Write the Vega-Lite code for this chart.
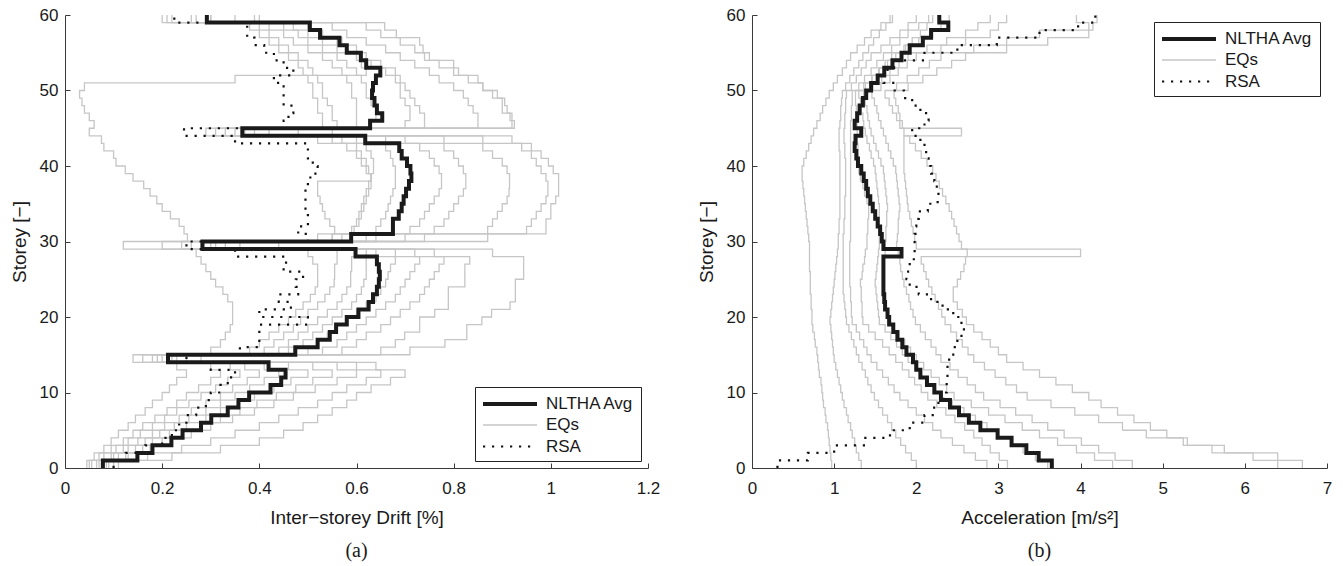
{
"$schema": "https://vega.github.io/schema/vega-lite/v6.json",
"padding": {"left": 10, "top": 6, "right": 8, "bottom": 4},
"bounds": "flush",
"spacing": 104,
"config": {
  "font": "Liberation Sans",
  "view": {"stroke": null},
  "axis": {"grid": false, "domainColor": "#3a3a3a", "tickColor": "#3a3a3a", "tickSize": -5, "labelPadding": 12, "labelFontSize": 17, "titleFontSize": 19, "titleFontWeight": "normal", "labelColor": "#1a1a1a", "titleColor": "#1a1a1a", "labelFlush": false, "labelFont": "Liberation Sans", "titleFont": "Liberation Sans"},
  "axisX": {"titlePadding": 12, "labelPadding": 17},
  "axisY": {"titlePadding": 10},
  "legend": {"labelFont": "Liberation Sans"}
},
"resolve": {"scale": {"color": "independent", "strokeWidth": "independent", "strokeDash": "independent"}, "legend": {"color": "independent", "strokeWidth": "independent", "strokeDash": "independent"}},
"datasets": {
"drift": [
{"s":0,"e1":0.045,"e2":0.05,"e3":0.055,"e4":0.065,"e5":0.07,"e6":0.075,"e7":0.085,"e8":0.09,"e9":0.1,"e10":0.11,"avg":0.078,"rsa":0.1},
{"s":1,"e1":0.045,"e2":0.05,"e3":0.055,"e4":0.065,"e5":0.07,"e6":0.075,"e7":0.085,"e8":0.09,"e9":0.1,"e10":0.11,"avg":0.078,"rsa":0.1},
{"s":2,"e1":0.06,"e2":0.07,"e3":0.08,"e4":0.095,"e5":0.1,"e6":0.11,"e7":0.125,"e8":0.13,"e9":0.17,"e10":0.22,"avg":0.149,"rsa":0.125},
{"s":3,"e1":0.08,"e2":0.095,"e3":0.105,"e4":0.12,"e5":0.13,"e6":0.145,"e7":0.16,"e8":0.175,"e9":0.24,"e10":0.32,"avg":0.18,"rsa":0.165},
{"s":4,"e1":0.095,"e2":0.12,"e3":0.13,"e4":0.15,"e5":0.165,"e6":0.18,"e7":0.2,"e8":0.22,"e9":0.3,"e10":0.4,"avg":0.219,"rsa":0.2},
{"s":5,"e1":0.11,"e2":0.14,"e3":0.155,"e4":0.18,"e5":0.195,"e6":0.215,"e7":0.24,"e8":0.26,"e9":0.35,"e10":0.45,"avg":0.242,"rsa":0.22},
{"s":6,"e1":0.13,"e2":0.16,"e3":0.18,"e4":0.205,"e5":0.225,"e6":0.25,"e7":0.28,"e8":0.3,"e9":0.4,"e10":0.49,"avg":0.28,"rsa":0.235},
{"s":7,"e1":0.145,"e2":0.185,"e3":0.205,"e4":0.235,"e5":0.255,"e6":0.29,"e7":0.32,"e8":0.345,"e9":0.44,"e10":0.52,"avg":0.301,"rsa":0.25},
{"s":8,"e1":0.165,"e2":0.21,"e3":0.23,"e4":0.26,"e5":0.29,"e6":0.32,"e7":0.36,"e8":0.39,"e9":0.48,"e10":0.55,"avg":0.335,"rsa":0.27},
{"s":9,"e1":0.18,"e2":0.23,"e3":0.255,"e4":0.29,"e5":0.32,"e6":0.355,"e7":0.395,"e8":0.43,"e9":0.52,"e10":0.58,"avg":0.357,"rsa":0.29},
{"s":10,"e1":0.2,"e2":0.25,"e3":0.28,"e4":0.32,"e5":0.35,"e6":0.39,"e7":0.435,"e8":0.47,"e9":0.55,"e10":0.6,"avg":0.379,"rsa":0.3},
{"s":11,"e1":0.215,"e2":0.275,"e3":0.31,"e4":0.345,"e5":0.38,"e6":0.43,"e7":0.475,"e8":0.515,"e9":0.58,"e10":0.63,"avg":0.423,"rsa":0.32},
{"s":12,"e1":0.23,"e2":0.3,"e3":0.335,"e4":0.375,"e5":0.41,"e6":0.465,"e7":0.51,"e8":0.56,"e9":0.62,"e10":0.67,"avg":0.445,"rsa":0.335},
{"s":13,"e1":0.25,"e2":0.32,"e3":0.36,"e4":0.4,"e5":0.44,"e6":0.5,"e7":0.55,"e8":0.6,"e9":0.65,"e10":0.7,"avg":0.454,"rsa":0.35},
{"s":14,"e1":0.23,"e2":0.3,"e3":0.34,"e4":0.37,"e5":0.41,"e6":0.46,"e7":0.51,"e8":0.56,"e9":0.6,"e10":0.64,"avg":0.419,"rsa":0.3},
{"s":15,"e1":0.14,"e2":0.16,"e3":0.18,"e4":0.19,"e5":0.2,"e6":0.21,"e7":0.22,"e8":0.23,"e9":0.25,"e10":0.28,"avg":0.212,"rsa":0.25},
{"s":16,"e1":0.3,"e2":0.38,"e3":0.41,"e4":0.44,"e5":0.46,"e6":0.5,"e7":0.53,"e8":0.57,"e9":0.65,"e10":0.71,"avg":0.474,"rsa":0.36},
{"s":17,"e1":0.32,"e2":0.4,"e3":0.43,"e4":0.46,"e5":0.49,"e6":0.52,"e7":0.56,"e8":0.6,"e9":0.68,"e10":0.782,"avg":0.52,"rsa":0.4},
{"s":18,"e1":0.33,"e2":0.42,"e3":0.45,"e4":0.48,"e5":0.51,"e6":0.54,"e7":0.58,"e8":0.62,"e9":0.699,"e10":0.827,"avg":0.545,"rsa":0.4},
{"s":19,"e1":0.34,"e2":0.44,"e3":0.47,"e4":0.5,"e5":0.53,"e6":0.56,"e7":0.6,"e8":0.65,"e9":0.73,"e10":0.827,"avg":0.558,"rsa":0.4},
{"s":20,"e1":0.345,"e2":0.46,"e3":0.485,"e4":0.52,"e5":0.55,"e6":0.58,"e7":0.62,"e8":0.67,"e9":0.73,"e10":0.858,"avg":0.58,"rsa":0.5},
{"s":21,"e1":0.345,"e2":0.475,"e3":0.5,"e4":0.54,"e5":0.57,"e6":0.6,"e7":0.64,"e8":0.69,"e9":0.761,"e10":0.878,"avg":0.604,"rsa":0.4},
{"s":22,"e1":0.345,"e2":0.49,"e3":0.52,"e4":0.56,"e5":0.59,"e6":0.62,"e7":0.66,"e8":0.71,"e9":0.789,"e10":0.916,"avg":0.625,"rsa":0.465},
{"s":23,"e1":0.335,"e2":0.505,"e3":0.535,"e4":0.57,"e5":0.6,"e6":0.64,"e7":0.68,"e8":0.73,"e9":0.789,"e10":0.927,"avg":0.634,"rsa":0.44},
{"s":24,"e1":0.325,"e2":0.515,"e3":0.545,"e4":0.58,"e5":0.61,"e6":0.65,"e7":0.69,"e8":0.74,"e9":0.789,"e10":0.927,"avg":0.642,"rsa":0.48},
{"s":25,"e1":0.31,"e2":0.52,"e3":0.554,"e4":0.588,"e5":0.615,"e6":0.66,"e7":0.7,"e8":0.75,"e9":0.823,"e10":0.927,"avg":0.646,"rsa":0.475},
{"s":26,"e1":0.3,"e2":0.52,"e3":0.555,"e4":0.588,"e5":0.62,"e6":0.665,"e7":0.71,"e8":0.76,"e9":0.823,"e10":0.944,"avg":0.648,"rsa":0.49},
{"s":27,"e1":0.29,"e2":0.52,"e3":0.555,"e4":0.59,"e5":0.62,"e6":0.67,"e7":0.72,"e8":0.77,"e9":0.823,"e10":0.944,"avg":0.646,"rsa":0.45},
{"s":28,"e1":0.28,"e2":0.51,"e3":0.56,"e4":0.59,"e5":0.62,"e6":0.68,"e7":0.73,"e8":0.78,"e9":0.833,"e10":0.944,"avg":0.642,"rsa":0.455},
{"s":29,"e1":0.27,"e2":0.5,"e3":0.56,"e4":0.6,"e5":0.62,"e6":0.64,"e7":0.68,"e8":0.72,"e9":0.76,"e10":0.88,"avg":0.598,"rsa":0.35},
{"s":30,"e1":0.12,"e2":0.2,"e3":0.24,"e4":0.26,"e5":0.28,"e6":0.3,"e7":0.31,"e8":0.33,"e9":0.36,"e10":0.44,"avg":0.283,"rsa":0.25},
{"s":31,"e1":0.252,"e2":0.52,"e3":0.55,"e4":0.55,"e5":0.57,"e6":0.62,"e7":0.64,"e8":0.7,"e9":0.74,"e10":0.87,"avg":0.589,"rsa":0.5},
{"s":32,"e1":0.245,"e2":0.555,"e3":0.595,"e4":0.59,"e5":0.64,"e6":0.71,"e7":0.76,"e8":0.87,"e9":0.95,"e10":0.99,"avg":0.675,"rsa":0.48},
{"s":33,"e1":0.235,"e2":0.545,"e3":0.605,"e4":0.6,"e5":0.65,"e6":0.73,"e7":0.78,"e8":0.88,"e9":0.96,"e10":0.99,"avg":0.675,"rsa":0.5},
{"s":34,"e1":0.217,"e2":0.535,"e3":0.61,"e4":0.605,"e5":0.66,"e6":0.74,"e7":0.79,"e8":0.89,"e9":0.97,"e10":1.0,"avg":0.687,"rsa":0.5},
{"s":35,"e1":0.2,"e2":0.53,"e3":0.615,"e4":0.61,"e5":0.665,"e6":0.75,"e7":0.8,"e8":0.9,"e9":0.98,"e10":1.0,"avg":0.693,"rsa":0.495},
{"s":36,"e1":0.189,"e2":0.525,"e3":0.62,"e4":0.615,"e5":0.67,"e6":0.76,"e7":0.81,"e8":0.91,"e9":0.99,"e10":1.01,"avg":0.697,"rsa":0.495},
{"s":37,"e1":0.175,"e2":0.52,"e3":0.625,"e4":0.62,"e5":0.675,"e6":0.77,"e7":0.82,"e8":0.914,"e9":0.994,"e10":1.016,"avg":0.702,"rsa":0.495},
{"s":38,"e1":0.162,"e2":0.52,"e3":0.63,"e4":0.625,"e5":0.68,"e6":0.775,"e7":0.825,"e8":0.915,"e9":0.994,"e10":1.016,"avg":0.708,"rsa":0.5},
{"s":39,"e1":0.14,"e2":0.63,"e3":0.63,"e4":0.63,"e5":0.68,"e6":0.775,"e7":0.825,"e8":0.915,"e9":0.99,"e10":1.016,"avg":0.713,"rsa":0.505},
{"s":40,"e1":0.124,"e2":0.62,"e3":0.625,"e4":0.635,"e5":0.68,"e6":0.77,"e7":0.82,"e8":0.91,"e9":0.98,"e10":1.005,"avg":0.711,"rsa":0.52},
{"s":41,"e1":0.105,"e2":0.61,"e3":0.62,"e4":0.635,"e5":0.675,"e6":0.76,"e7":0.81,"e8":0.9,"e9":0.97,"e10":0.995,"avg":0.704,"rsa":0.51},
{"s":42,"e1":0.1,"e2":0.6,"e3":0.61,"e4":0.63,"e5":0.67,"e6":0.75,"e7":0.8,"e8":0.88,"e9":0.96,"e10":0.98,"avg":0.693,"rsa":0.5},
{"s":43,"e1":0.08,"e2":0.58,"e3":0.6,"e4":0.62,"e5":0.66,"e6":0.73,"e7":0.78,"e8":0.86,"e9":0.94,"e10":0.96,"avg":0.688,"rsa":0.5},
{"s":44,"e1":0.075,"e2":0.52,"e3":0.55,"e4":0.57,"e5":0.6,"e6":0.66,"e7":0.7,"e8":0.78,"e9":0.86,"e10":0.92,"avg":0.618,"rsa":0.35},
{"s":45,"e1":0.05,"e2":0.29,"e3":0.31,"e4":0.33,"e5":0.35,"e6":0.37,"e7":0.39,"e8":0.42,"e9":0.48,"e10":0.55,"avg":0.365,"rsa":0.245},
{"s":46,"e1":0.06,"e2":0.53,"e3":0.56,"e4":0.6,"e5":0.63,"e6":0.7,"e7":0.74,"e8":0.85,"e9":0.925,"e10":0.92,"avg":0.628,"rsa":0.45},
{"s":47,"e1":0.05,"e2":0.53,"e3":0.55,"e4":0.6,"e5":0.64,"e6":0.71,"e7":0.74,"e8":0.85,"e9":0.92,"e10":0.916,"avg":0.653,"rsa":0.46},
{"s":48,"e1":0.04,"e2":0.52,"e3":0.55,"e4":0.6,"e5":0.64,"e6":0.71,"e7":0.73,"e8":0.84,"e9":0.91,"e10":0.9,"avg":0.642,"rsa":0.47},
{"s":49,"e1":0.035,"e2":0.52,"e3":0.54,"e4":0.6,"e5":0.63,"e6":0.7,"e7":0.72,"e8":0.83,"e9":0.905,"e10":0.9,"avg":0.637,"rsa":0.45},
{"s":50,"e1":0.03,"e2":0.51,"e3":0.53,"e4":0.59,"e5":0.62,"e6":0.69,"e7":0.71,"e8":0.82,"e9":0.89,"e10":0.88,"avg":0.632,"rsa":0.45},
{"s":51,"e1":0.04,"e2":0.51,"e3":0.53,"e4":0.59,"e5":0.62,"e6":0.69,"e7":0.7,"e8":0.8,"e9":0.86,"e10":0.86,"avg":0.634,"rsa":0.45},
{"s":52,"e1":0.35,"e2":0.5,"e3":0.52,"e4":0.58,"e5":0.61,"e6":0.68,"e7":0.69,"e8":0.77,"e9":0.83,"e10":0.85,"avg":0.64,"rsa":0.43},
{"s":53,"e1":0.62,"e2":0.49,"e3":0.51,"e4":0.57,"e5":0.6,"e6":0.66,"e7":0.68,"e8":0.75,"e9":0.8,"e10":0.81,"avg":0.649,"rsa":0.47},
{"s":54,"e1":0.61,"e2":0.48,"e3":0.5,"e4":0.55,"e5":0.58,"e6":0.63,"e7":0.65,"e8":0.72,"e9":0.77,"e10":0.8,"avg":0.62,"rsa":0.45},
{"s":55,"e1":0.6,"e2":0.46,"e3":0.48,"e4":0.53,"e5":0.56,"e6":0.6,"e7":0.62,"e8":0.69,"e9":0.74,"e10":0.75,"avg":0.609,"rsa":0.43},
{"s":56,"e1":0.58,"e2":0.44,"e3":0.46,"e4":0.5,"e5":0.53,"e6":0.56,"e7":0.6,"e8":0.66,"e9":0.72,"e10":0.737,"avg":0.58,"rsa":0.41},
{"s":57,"e1":0.56,"e2":0.42,"e3":0.44,"e4":0.47,"e5":0.5,"e6":0.53,"e7":0.57,"e8":0.62,"e9":0.69,"e10":0.73,"avg":0.565,"rsa":0.39},
{"s":58,"e1":0.53,"e2":0.4,"e3":0.42,"e4":0.45,"e5":0.48,"e6":0.5,"e7":0.53,"e8":0.58,"e9":0.65,"e10":0.682,"avg":0.525,"rsa":0.375},
{"s":59,"e1":0.5,"e2":0.38,"e3":0.4,"e4":0.42,"e5":0.45,"e6":0.47,"e7":0.5,"e8":0.55,"e9":0.62,"e10":0.658,"avg":0.504,"rsa":0.375},
{"s":60,"e1":0.3,"e2":0.2,"e3":0.21,"e4":0.22,"e5":0.26,"e6":0.27,"e7":0.3,"e8":0.35,"e9":0.39,"e10":0.4,"avg":0.292,"rsa":0.225}
],
"acc": [
{"s":0,"e1":0.97,"e2":1.33,"e3":2.0,"e4":2.86,"e5":3.11,"e6":3.6,"e7":4.39,"e8":4.63,"e9":6.4,"e10":6.7,"avg":3.65,"rsa":0.31},
{"s":1,"e1":0.97,"e2":1.33,"e3":2.0,"e4":2.86,"e5":3.11,"e6":3.6,"e7":4.39,"e8":4.63,"e9":6.4,"e10":6.7,"avg":3.65,"rsa":0.31},
{"s":2,"e1":0.96,"e2":1.3,"e3":1.94,"e4":2.72,"e5":3.01,"e6":3.45,"e7":4.17,"e8":4.42,"e9":6.4,"e10":6.1,"avg":3.49,"rsa":0.68},
{"s":3,"e1":0.95,"e2":1.27,"e3":1.87,"e4":2.58,"e5":2.9,"e6":3.3,"e7":3.95,"e8":4.22,"e9":5.75,"e10":5.6,"avg":3.34,"rsa":1.0},
{"s":4,"e1":0.94,"e2":1.25,"e3":1.81,"e4":2.44,"e5":2.8,"e6":3.15,"e7":3.72,"e8":4.01,"e9":5.25,"e10":5.3,"avg":3.16,"rsa":1.38},
{"s":5,"e1":0.93,"e2":1.22,"e3":1.75,"e4":2.3,"e5":2.7,"e6":3.0,"e7":3.5,"e8":3.8,"e9":4.8,"e10":5.05,"avg":2.99,"rsa":1.68},
{"s":6,"e1":0.92,"e2":1.2,"e3":1.7,"e4":2.2,"e5":2.59,"e6":2.86,"e7":3.29,"e8":3.6,"e9":4.51,"e10":4.85,"avg":2.78,"rsa":1.92},
{"s":7,"e1":0.9,"e2":1.17,"e3":1.65,"e4":2.1,"e5":2.47,"e6":2.72,"e7":3.08,"e8":3.41,"e9":4.22,"e10":4.65,"avg":2.64,"rsa":2.1},
{"s":8,"e1":0.89,"e2":1.15,"e3":1.59,"e4":2.0,"e5":2.36,"e6":2.58,"e7":2.88,"e8":3.21,"e9":3.93,"e10":4.45,"avg":2.52,"rsa":2.2},
{"s":9,"e1":0.87,"e2":1.12,"e3":1.54,"e4":1.9,"e5":2.25,"e6":2.44,"e7":2.67,"e8":3.02,"e9":3.64,"e10":4.25,"avg":2.41,"rsa":2.27},
{"s":10,"e1":0.86,"e2":1.1,"e3":1.49,"e4":1.8,"e5":2.14,"e6":2.3,"e7":2.46,"e8":2.82,"e9":3.35,"e10":4.1,"avg":2.3,"rsa":2.33},
{"s":11,"e1":0.85,"e2":1.08,"e3":1.45,"e4":1.73,"e5":2.06,"e6":2.22,"e7":2.37,"e8":2.72,"e9":3.22,"e10":3.9,"avg":2.22,"rsa":2.37},
{"s":12,"e1":0.84,"e2":1.06,"e3":1.41,"e4":1.66,"e5":1.98,"e6":2.14,"e7":2.28,"e8":2.62,"e9":3.09,"e10":3.7,"avg":2.13,"rsa":2.37},
{"s":13,"e1":0.82,"e2":1.04,"e3":1.38,"e4":1.59,"e5":1.91,"e6":2.06,"e7":2.18,"e8":2.51,"e9":2.96,"e10":3.5,"avg":2.05,"rsa":2.38},
{"s":14,"e1":0.81,"e2":1.02,"e3":1.34,"e4":1.52,"e5":1.83,"e6":1.98,"e7":2.09,"e8":2.41,"e9":2.83,"e10":3.3,"avg":2.0,"rsa":2.38},
{"s":15,"e1":0.8,"e2":1.0,"e3":1.3,"e4":1.45,"e5":1.75,"e6":1.9,"e7":2.0,"e8":2.3,"e9":2.7,"e10":3.1,"avg":1.96,"rsa":2.4},
{"s":16,"e1":0.79,"e2":0.99,"e3":1.27,"e4":1.4,"e5":1.67,"e6":1.83,"e7":1.93,"e8":2.24,"e9":2.63,"e10":3.0,"avg":1.88,"rsa":2.45},
{"s":17,"e1":0.77,"e2":0.98,"e3":1.24,"e4":1.36,"e5":1.59,"e6":1.76,"e7":1.86,"e8":2.18,"e9":2.56,"e10":2.9,"avg":1.83,"rsa":2.5},
{"s":18,"e1":0.76,"e2":0.97,"e3":1.21,"e4":1.31,"e5":1.5,"e6":1.69,"e7":1.79,"e8":2.11,"e9":2.49,"e10":2.8,"avg":1.77,"rsa":2.55},
{"s":19,"e1":0.74,"e2":0.96,"e3":1.18,"e4":1.27,"e5":1.42,"e6":1.62,"e7":1.72,"e8":2.05,"e9":2.42,"e10":2.7,"avg":1.72,"rsa":2.58},
{"s":20,"e1":0.73,"e2":0.95,"e3":1.15,"e4":1.22,"e5":1.35,"e6":1.55,"e7":1.65,"e8":1.99,"e9":2.35,"e10":2.61,"avg":1.67,"rsa":2.55},
{"s":21,"e1":0.73,"e2":0.96,"e3":1.14,"e4":1.21,"e5":1.34,"e6":1.54,"e7":1.64,"e8":1.96,"e9":2.31,"e10":2.56,"avg":1.65,"rsa":2.45},
{"s":22,"e1":0.72,"e2":0.97,"e3":1.13,"e4":1.21,"e5":1.34,"e6":1.53,"e7":1.63,"e8":1.93,"e9":2.27,"e10":2.5,"avg":1.62,"rsa":2.32},
{"s":23,"e1":0.72,"e2":0.98,"e3":1.12,"e4":1.2,"e5":1.33,"e6":1.52,"e7":1.62,"e8":1.91,"e9":2.23,"e10":2.45,"avg":1.61,"rsa":2.18},
{"s":24,"e1":0.71,"e2":0.99,"e3":1.11,"e4":1.2,"e5":1.33,"e6":1.51,"e7":1.61,"e8":1.88,"e9":2.19,"e10":2.45,"avg":1.6,"rsa":2.03},
{"s":25,"e1":0.71,"e2":1.0,"e3":1.11,"e4":1.19,"e5":1.32,"e6":1.5,"e7":1.6,"e8":1.85,"e9":2.15,"e10":2.5,"avg":1.6,"rsa":1.92},
{"s":26,"e1":0.71,"e2":1.01,"e3":1.11,"e4":1.19,"e5":1.34,"e6":1.51,"e7":1.6,"e8":1.83,"e9":2.12,"e10":2.54,"avg":1.6,"rsa":1.88},
{"s":27,"e1":0.7,"e2":1.02,"e3":1.11,"e4":1.19,"e5":1.35,"e6":1.52,"e7":1.61,"e8":1.81,"e9":2.09,"e10":2.58,"avg":1.6,"rsa":1.9},
{"s":28,"e1":0.7,"e2":1.03,"e3":1.11,"e4":1.19,"e5":1.37,"e6":1.53,"e7":1.61,"e8":1.8,"e9":2.06,"e10":2.6,"avg":1.6,"rsa":1.97},
{"s":29,"e1":0.7,"e2":1.04,"e3":1.11,"e4":1.19,"e5":1.38,"e6":1.54,"e7":1.62,"e8":1.78,"e9":4.0,"e10":2.62,"avg":1.82,"rsa":1.98},
{"s":30,"e1":0.7,"e2":1.05,"e3":1.11,"e4":1.19,"e5":1.4,"e6":1.55,"e7":1.62,"e8":1.76,"e9":2.0,"e10":2.55,"avg":1.6,"rsa":1.98},
{"s":31,"e1":0.69,"e2":1.05,"e3":1.11,"e4":1.2,"e5":1.4,"e6":1.55,"e7":1.63,"e8":1.77,"e9":1.98,"e10":2.52,"avg":1.58,"rsa":1.98},
{"s":32,"e1":0.68,"e2":1.06,"e3":1.12,"e4":1.2,"e5":1.41,"e6":1.55,"e7":1.63,"e8":1.78,"e9":1.96,"e10":2.49,"avg":1.56,"rsa":1.99},
{"s":33,"e1":0.67,"e2":1.06,"e3":1.12,"e4":1.2,"e5":1.41,"e6":1.55,"e7":1.64,"e8":1.78,"e9":1.94,"e10":2.46,"avg":1.53,"rsa":2.0},
{"s":34,"e1":0.66,"e2":1.07,"e3":1.13,"e4":1.2,"e5":1.42,"e6":1.55,"e7":1.64,"e8":1.79,"e9":1.92,"e10":2.43,"avg":1.5,"rsa":2.03},
{"s":35,"e1":0.65,"e2":1.07,"e3":1.13,"e4":1.2,"e5":1.42,"e6":1.55,"e7":1.65,"e8":1.8,"e9":1.9,"e10":2.4,"avg":1.47,"rsa":2.14},
{"s":36,"e1":0.64,"e2":1.07,"e3":1.13,"e4":1.2,"e5":1.4,"e6":1.54,"e7":1.64,"e8":1.79,"e9":1.89,"e10":2.36,"avg":1.44,"rsa":2.26},
{"s":37,"e1":0.63,"e2":1.07,"e3":1.14,"e4":1.2,"e5":1.37,"e6":1.53,"e7":1.63,"e8":1.78,"e9":1.88,"e10":2.32,"avg":1.41,"rsa":2.27},
{"s":38,"e1":0.62,"e2":1.07,"e3":1.14,"e4":1.2,"e5":1.35,"e6":1.52,"e7":1.62,"e8":1.77,"e9":1.87,"e10":2.28,"avg":1.39,"rsa":2.25},
{"s":39,"e1":0.61,"e2":1.07,"e3":1.14,"e4":1.2,"e5":1.32,"e6":1.51,"e7":1.61,"e8":1.76,"e9":1.86,"e10":2.24,"avg":1.36,"rsa":2.22},
{"s":40,"e1":0.61,"e2":1.07,"e3":1.14,"e4":1.2,"e5":1.3,"e6":1.5,"e7":1.6,"e8":1.75,"e9":1.85,"e10":2.2,"avg":1.33,"rsa":2.18},
{"s":41,"e1":0.63,"e2":1.07,"e3":1.14,"e4":1.2,"e5":1.3,"e6":1.48,"e7":1.57,"e8":1.72,"e9":1.85,"e10":2.13,"avg":1.29,"rsa":2.15},
{"s":42,"e1":0.66,"e2":1.07,"e3":1.13,"e4":1.2,"e5":1.29,"e6":1.45,"e7":1.54,"e8":1.69,"e9":1.85,"e10":2.06,"avg":1.27,"rsa":2.12},
{"s":43,"e1":0.69,"e2":1.06,"e3":1.13,"e4":1.2,"e5":1.29,"e6":1.43,"e7":1.51,"e8":1.66,"e9":1.85,"e10":1.99,"avg":1.25,"rsa":2.1},
{"s":44,"e1":0.72,"e2":1.06,"e3":1.12,"e4":1.2,"e5":1.28,"e6":1.4,"e7":1.48,"e8":1.63,"e9":1.85,"e10":1.92,"avg":1.26,"rsa":2.05},
{"s":45,"e1":0.75,"e2":1.06,"e3":1.12,"e4":1.2,"e5":1.28,"e6":1.38,"e7":1.45,"e8":1.6,"e9":2.55,"e10":1.85,"avg":1.33,"rsa":1.95},
{"s":46,"e1":0.79,"e2":1.07,"e3":1.13,"e4":1.2,"e5":1.28,"e6":1.36,"e7":1.43,"e8":1.57,"e9":1.8,"e10":1.83,"avg":1.25,"rsa":2.1},
{"s":47,"e1":0.83,"e2":1.08,"e3":1.13,"e4":1.21,"e5":1.27,"e6":1.35,"e7":1.41,"e8":1.54,"e9":1.76,"e10":1.8,"avg":1.28,"rsa":2.15},
{"s":48,"e1":0.86,"e2":1.08,"e3":1.14,"e4":1.21,"e5":1.27,"e6":1.33,"e7":1.4,"e8":1.52,"e9":1.71,"e10":1.78,"avg":1.31,"rsa":2.05},
{"s":49,"e1":0.9,"e2":1.09,"e3":1.14,"e4":1.22,"e5":1.26,"e6":1.32,"e7":1.38,"e8":1.49,"e9":1.67,"e10":1.75,"avg":1.35,"rsa":1.95},
{"s":50,"e1":0.94,"e2":1.1,"e3":1.15,"e4":1.22,"e5":1.26,"e6":1.3,"e7":1.36,"e8":1.46,"e9":1.62,"e10":1.73,"avg":1.39,"rsa":1.85},
{"s":51,"e1":0.99,"e2":1.14,"e3":1.21,"e4":1.3,"e5":1.36,"e6":1.38,"e7":1.47,"e8":1.57,"e9":1.76,"e10":1.9,"avg":1.45,"rsa":1.72},
{"s":52,"e1":1.04,"e2":1.19,"e3":1.27,"e4":1.37,"e5":1.46,"e6":1.46,"e7":1.58,"e8":1.68,"e9":1.89,"e10":2.08,"avg":1.53,"rsa":1.6},
{"s":53,"e1":1.1,"e2":1.24,"e3":1.33,"e4":1.45,"e5":1.55,"e6":1.54,"e7":1.68,"e8":1.78,"e9":2.03,"e10":2.25,"avg":1.61,"rsa":1.65},
{"s":54,"e1":1.15,"e2":1.3,"e3":1.39,"e4":1.52,"e5":1.65,"e6":1.62,"e7":1.79,"e8":1.89,"e9":2.16,"e10":2.43,"avg":1.71,"rsa":1.73},
{"s":55,"e1":1.2,"e2":1.35,"e3":1.45,"e4":1.6,"e5":1.75,"e6":1.7,"e7":1.9,"e8":2.0,"e9":2.3,"e10":2.6,"avg":1.82,"rsa":2.1},
{"s":56,"e1":1.28,"e2":1.42,"e3":1.57,"e4":1.7,"e5":1.85,"e6":1.87,"e7":2.13,"e8":2.3,"e9":2.7,"e10":3.1,"avg":1.92,"rsa":2.5},
{"s":57,"e1":1.37,"e2":1.48,"e3":1.68,"e4":1.8,"e5":1.95,"e6":2.03,"e7":2.37,"e8":2.6,"e9":3.1,"e10":3.6,"avg":2.08,"rsa":2.98},
{"s":58,"e1":1.45,"e2":1.55,"e3":1.8,"e4":1.9,"e5":2.05,"e6":2.2,"e7":2.6,"e8":2.9,"e9":3.5,"e10":4.1,"avg":2.18,"rsa":3.5},
{"s":59,"e1":1.57,"e2":1.63,"e3":1.9,"e4":2.03,"e5":2.13,"e6":2.3,"e7":2.75,"e8":3.0,"e9":4.15,"e10":4.1,"avg":2.39,"rsa":3.97},
{"s":60,"e1":1.68,"e2":1.71,"e3":2.0,"e4":2.15,"e5":2.2,"e6":2.4,"e7":2.9,"e8":3.1,"e9":4.2,"e10":3.95,"avg":2.28,"rsa":4.18}
]
},
"hconcat": [
{
  "width": 583, "height": 453,
  "title": {"text": "(a)", "orient": "bottom", "font": "Liberation Serif", "fontSize": 20, "fontWeight": "normal", "offset": 14, "color": "#1a1a1a"},
  "data": {"name": "drift"},
  "encoding": {
    "y": {"field": "s", "type": "quantitative", "scale": {"domain": [0, 60], "nice": false, "zero": false}, "axis": {"values": [0, 10, 20, 30, 40, 50, 60], "title": "Storey [−]"}},
    "x": {"field": "v", "type": "quantitative", "scale": {"domain": [0, 1.2], "nice": false}, "axis": {"values": [0, 0.2, 0.4, 0.6, 0.8, 1, 1.2], "format": "~g", "title": "Inter−storey Drift [%]"}},
    "order": {"field": "s", "type": "quantitative"},
    "color": {"field": "series", "type": "nominal", "scale": {"domain": ["avg","e1","e2","e3","e4","e5","e6","e7","e8","e9","e10","rsa"], "range": ["#1a1a1a","#c6c6c6","#c6c6c6","#c6c6c6","#c6c6c6","#c6c6c6","#c6c6c6","#c6c6c6","#c6c6c6","#c6c6c6","#c6c6c6","#111111"]},
      "legend": {"title": null, "orient": "bottom-right", "offset": 7, "values": ["avg","e1","rsa"], "labelExpr": "datum.value == 'avg' ? 'NLTHA Avg' : datum.value == 'e1' ? 'EQs' : 'RSA'", "symbolType": "M-1,0H5", "symbolSize": 324, "labelFontSize": 17, "labelColor": "#1a1a1a", "strokeColor": "#222222", "fillColor": "white", "padding": 6, "rowPadding": 3, "labelOffset": 43}},
    "strokeWidth": {"field": "series", "type": "nominal", "scale": {"type": "ordinal", "domain": ["avg","e1","e2","e3","e4","e5","e6","e7","e8","e9","e10","rsa"], "range": [4,1.3,1.3,1.3,1.3,1.3,1.3,1.3,1.3,1.3,1.3,2.2]},
      "legend": {"title": null, "orient": "bottom-right", "offset": 7, "values": ["avg","e1","rsa"], "labelExpr": "datum.value == 'avg' ? 'NLTHA Avg' : datum.value == 'e1' ? 'EQs' : 'RSA'", "symbolType": "M-1,0H5", "symbolSize": 324, "labelFontSize": 17, "labelColor": "#1a1a1a", "strokeColor": "#222222", "fillColor": "white", "padding": 6, "rowPadding": 3, "labelOffset": 43}},
    "strokeDash": {"field": "series", "type": "nominal", "scale": {"domain": ["avg","e1","e2","e3","e4","e5","e6","e7","e8","e9","e10","rsa"], "range": [[1,0],[1,0],[1,0],[1,0],[1,0],[1,0],[1,0],[1,0],[1,0],[1,0],[1,0],[2.2,6.8]]},
      "legend": {"title": null, "orient": "bottom-right", "offset": 7, "values": ["avg","e1","rsa"], "labelExpr": "datum.value == 'avg' ? 'NLTHA Avg' : datum.value == 'e1' ? 'EQs' : 'RSA'", "symbolType": "M-1,0H5", "symbolSize": 324, "labelFontSize": 17, "labelColor": "#1a1a1a", "strokeColor": "#222222", "fillColor": "white", "padding": 6, "rowPadding": 3, "labelOffset": 43}}
  },
  "layer": [
    {"transform": [{"fold": ["e1","e2","e3","e4","e5","e6","e7","e8","e9","e10"], "as": ["series","v"]}], "mark": {"type": "line", "interpolate": "step-after", "strokeCap": "butt"}},
    {"transform": [{"fold": ["rsa"], "as": ["series","v"]}], "mark": {"type": "line", "interpolate": "step-after", "strokeCap": "butt"}},
    {"transform": [{"fold": ["avg"], "as": ["series","v"]}], "mark": {"type": "line", "interpolate": "step-after", "strokeCap": "butt", "strokeJoin": "miter"}}
  ]
},
{
  "width": 575, "height": 453,
  "title": {"text": "(b)", "orient": "bottom", "font": "Liberation Serif", "fontSize": 20, "fontWeight": "normal", "offset": 14, "color": "#1a1a1a"},
  "data": {"name": "acc"},
  "encoding": {
    "y": {"field": "s", "type": "quantitative", "scale": {"domain": [0, 60], "nice": false, "zero": false}, "axis": {"values": [0, 10, 20, 30, 40, 50, 60], "title": "Storey [−]"}},
    "x": {"field": "v", "type": "quantitative", "scale": {"domain": [0, 7], "nice": false}, "axis": {"values": [0, 1, 2, 3, 4, 5, 6, 7], "format": "d", "title": "Acceleration [m/s²]"}},
    "order": {"field": "s", "type": "quantitative"},
    "color": {"field": "series", "type": "nominal", "scale": {"domain": ["avg","e1","e2","e3","e4","e5","e6","e7","e8","e9","e10","rsa"], "range": ["#1a1a1a","#c6c6c6","#c6c6c6","#c6c6c6","#c6c6c6","#c6c6c6","#c6c6c6","#c6c6c6","#c6c6c6","#c6c6c6","#c6c6c6","#111111"]},
      "legend": {"title": null, "orient": "top-right", "offset": 7, "values": ["avg","e1","rsa"], "labelExpr": "datum.value == 'avg' ? 'NLTHA Avg' : datum.value == 'e1' ? 'EQs' : 'RSA'", "symbolType": "M-1,0H5", "symbolSize": 324, "labelFontSize": 17, "labelColor": "#1a1a1a", "strokeColor": "#222222", "fillColor": "white", "padding": 6, "rowPadding": 3, "labelOffset": 43}},
    "strokeWidth": {"field": "series", "type": "nominal", "scale": {"type": "ordinal", "domain": ["avg","e1","e2","e3","e4","e5","e6","e7","e8","e9","e10","rsa"], "range": [4,1.3,1.3,1.3,1.3,1.3,1.3,1.3,1.3,1.3,1.3,2.2]},
      "legend": {"title": null, "orient": "top-right", "offset": 7, "values": ["avg","e1","rsa"], "labelExpr": "datum.value == 'avg' ? 'NLTHA Avg' : datum.value == 'e1' ? 'EQs' : 'RSA'", "symbolType": "M-1,0H5", "symbolSize": 324, "labelFontSize": 17, "labelColor": "#1a1a1a", "strokeColor": "#222222", "fillColor": "white", "padding": 6, "rowPadding": 3, "labelOffset": 43}},
    "strokeDash": {"field": "series", "type": "nominal", "scale": {"domain": ["avg","e1","e2","e3","e4","e5","e6","e7","e8","e9","e10","rsa"], "range": [[1,0],[1,0],[1,0],[1,0],[1,0],[1,0],[1,0],[1,0],[1,0],[1,0],[1,0],[2.2,6.8]]},
      "legend": {"title": null, "orient": "top-right", "offset": 7, "values": ["avg","e1","rsa"], "labelExpr": "datum.value == 'avg' ? 'NLTHA Avg' : datum.value == 'e1' ? 'EQs' : 'RSA'", "symbolType": "M-1,0H5", "symbolSize": 324, "labelFontSize": 17, "labelColor": "#1a1a1a", "strokeColor": "#222222", "fillColor": "white", "padding": 6, "rowPadding": 3, "labelOffset": 43}}
  },
  "layer": [
    {"transform": [{"fold": ["e1","e2","e3","e4","e5","e6","e7","e8","e9","e10"], "as": ["series","v"]}], "mark": {"type": "line", "interpolate": "step-after", "strokeCap": "butt"}},
    {"transform": [{"fold": ["rsa"], "as": ["series","v"]}], "mark": {"type": "line", "interpolate": "step-after", "strokeCap": "butt"}},
    {"transform": [{"fold": ["avg"], "as": ["series","v"]}], "mark": {"type": "line", "interpolate": "step-after", "strokeCap": "butt", "strokeJoin": "miter"}}
  ]
}
]
}
